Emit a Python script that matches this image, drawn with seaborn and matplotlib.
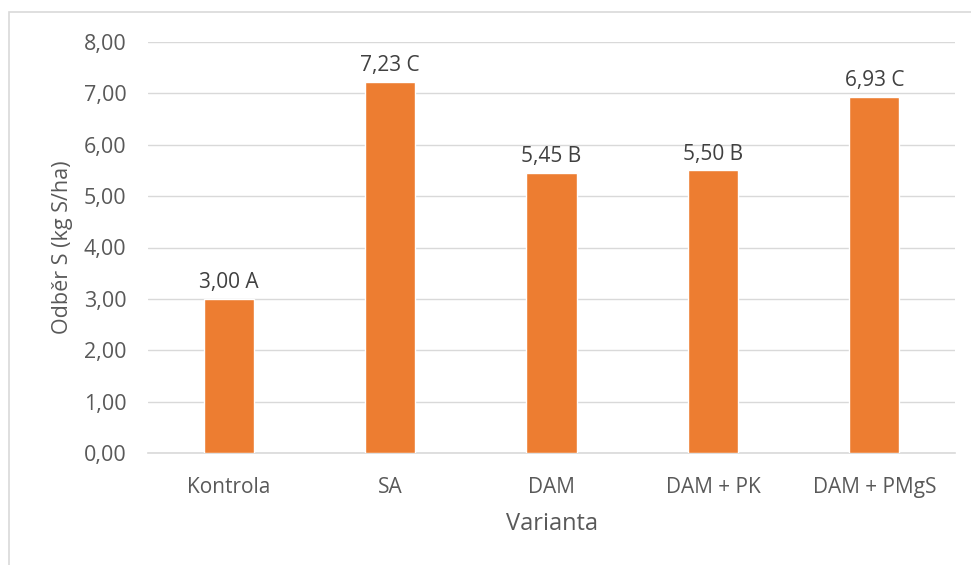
import matplotlib
matplotlib.use("Agg")
import matplotlib.pyplot as plt
import seaborn as sns
import pandas as pd
from matplotlib.patches import Rectangle

categories = ["Kontrola", "SA", "DAM", "DAM + PK", "DAM + PMgS"]
values = [3.00, 7.23, 5.45, 5.50, 6.93]
letters = ["A", "C", "B", "B", "C"]
yticks = [0, 1, 2, 3, 4, 5, 6, 7, 8]

df = pd.DataFrame({"Varianta": categories, "Odber": values})

sns.set_theme(style="white")
plt.rcParams["font.family"] = ["Open Sans", "DejaVu Sans"]
text_color = "#595959"

fig = plt.figure(figsize=(9.71, 5.65), dpi=100)
ax = fig.add_axes([148/971, 1 - 453/565, (955-148)/971, (453-42)/565])

sns.barplot(data=df, x="Varianta", y="Odber", color="#ED7D31", width=0.31,
            saturation=1, ax=ax, zorder=3)

ax.set_ylim(0, 8)
ax.set_yticks(yticks)
ax.set_yticklabels([f"{v:.2f}".replace(".", ",") for v in yticks], color=text_color, fontsize=15.5)
ax.tick_params(axis="x", colors=text_color, labelsize=15, length=0, pad=17)
ax.tick_params(axis="y", length=0, pad=15.5)
ax.yaxis.grid(True, color="#D9D9D9", linewidth=1, zorder=0)
ax.set_axisbelow(True)
for s in ["top", "right", "left"]:
    ax.spines[s].set_visible(False)
ax.spines["bottom"].set_color("#D9D9D9")
ax.spines["bottom"].set_linewidth(1.2)

ax.set_xlabel("Varianta", color=text_color, fontsize=17, labelpad=10)
ax.set_ylabel("Odběr S (kg S/ha)", color=text_color, fontsize=15.5, labelpad=8)

for i, (v, l) in enumerate(zip(values, letters)):
    ax.text(i, v + 0.11, f"{v:.2f}".replace(".", ",") + " " + l, ha="center", va="bottom",
            fontsize=15, color="#404040")

fig.patches.append(Rectangle((9/971, -0.1), 1.2, 1 - 12/565 + 0.1, transform=fig.transFigure,
                             fill=False, edgecolor="#D9D9D9", linewidth=1.2))

fig.savefig("out.png", dpi=100)
